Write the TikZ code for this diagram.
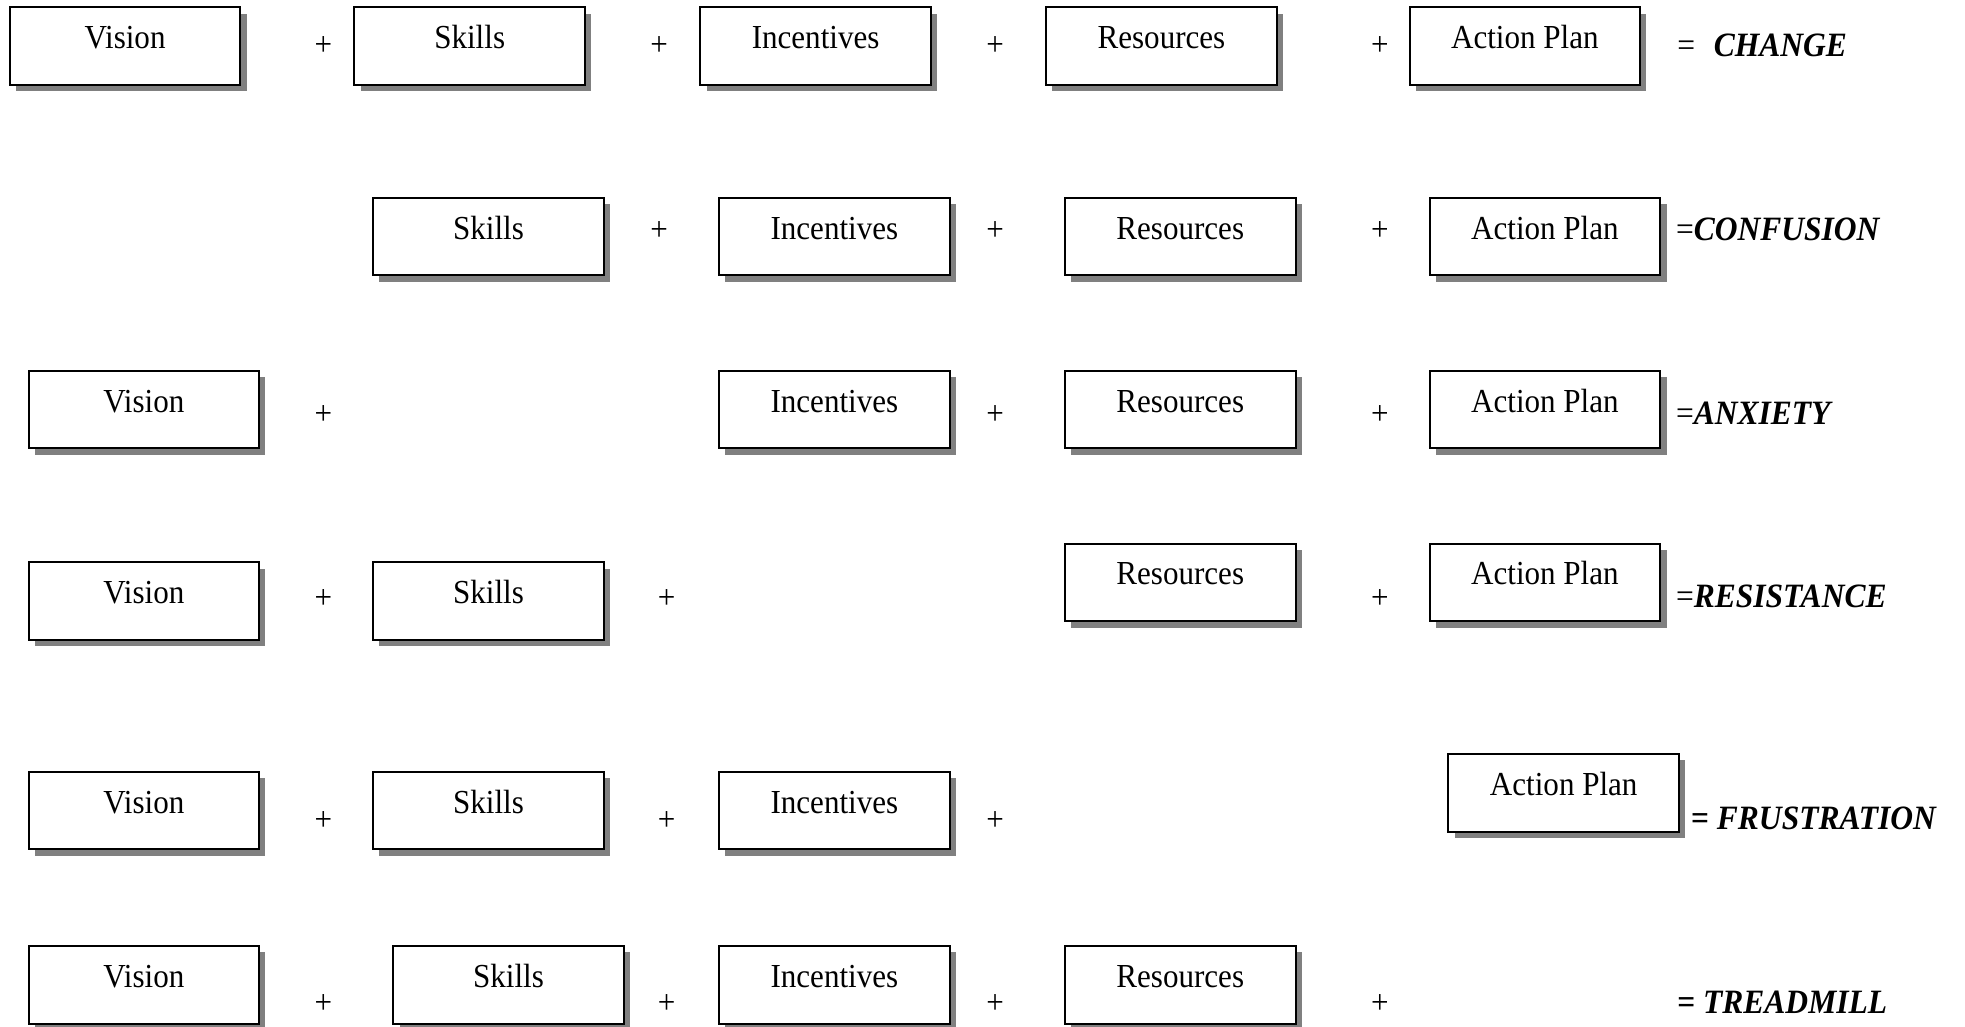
\documentclass[tikz,border=0pt]{standalone}
\usepackage{fontspec}
\setmainfont{Liberation Serif}[FakeStretch=0.925]
\usetikzlibrary{shadows}
\definecolor{shadowgray}{HTML}{808080}
\tikzset{
  box/.style={draw=black, line width=0.8pt, fill=white, anchor=north west,
    inner sep=0pt, minimum width=92pt, text height=16.5pt, text depth=14.5pt,
    align=center, font=\fontsize{13.4pt}{15pt}\selectfont,
    drop shadow={shadow xshift=2.5pt, shadow yshift=-2.5pt, fill=shadowgray, opacity=1}},
  plus/.style={inner sep=0pt, font=\fontsize{13.4pt}{15pt}\selectfont},
  result/.style={inner sep=0pt, anchor=west, font=\fontsize{13.6pt}{15pt}\selectfont}
}
\begin{document}
\begin{tikzpicture}[x=0.5pt, y=-0.5pt]
\useasboundingbox (0,0) rectangle (1568,819);
% Row 1
\node[box] (v1) at (7,5) {Vision};
\node[plus] (p11) at (258,37) {+};
\node[box] (s1) at (282,5) {Skills};
\node[plus] (p12) at (526,37) {+};
\node[box] (i1) at (558,5) {Incentives};
\node[plus] (p13) at (794,37) {+};
\node[box] (r1) at (834,5) {Resources};
\node[plus] (p14) at (1101,37) {+};
\node[box] (a1) at (1124,5) {Action Plan};
\node[result] (e1) at (1338,36) {=\hspace{0.55em}\textbf{\textit{CHANGE}}};
% Row 2
\node[box] (s2) at (297,157) {Skills};
\node[plus] (p22) at (526,184) {+};
\node[box] (i2) at (573,157) {Incentives};
\node[plus] (p23) at (794,184) {+};
\node[box] (r2) at (849,157) {Resources};
\node[plus] (p24) at (1101,184) {+};
\node[box] (a2) at (1140,157) {Action Plan};
\node[result] (e2) at (1337,183) {=\textbf{\textit{CONFUSION}}};
% Row 3
\node[box] (v3) at (22,295) {Vision};
\node[plus] (p31) at (258,331) {+};
\node[box] (i3) at (573,295) {Incentives};
\node[plus] (p33) at (794,331) {+};
\node[box] (r3) at (849,295) {Resources};
\node[plus] (p34) at (1101,331) {+};
\node[box] (a3) at (1140,295) {Action Plan};
\node[result] (e3) at (1337,330) {=\textbf{\textit{ANXIETY}}};
% Row 4
\node[box] (v4) at (22,448) {Vision};
\node[plus] (p41) at (258,478) {+};
\node[box] (s4) at (297,448) {Skills};
\node[plus] (p42) at (532,478) {+};
\node[box] (r4) at (849,433) {Resources};
\node[plus] (p44) at (1101,478) {+};
\node[box] (a4) at (1140,433) {Action Plan};
\node[result] (e4) at (1337,476) {=\textbf{\textit{RESISTANCE}}};
% Row 5
\node[box] (v5) at (22,615) {Vision};
\node[plus] (p51) at (258,655) {+};
\node[box] (s5) at (297,615) {Skills};
\node[plus] (p52) at (532,655) {+};
\node[box] (i5) at (573,615) {Incentives};
\node[plus] (p53) at (794,655) {+};
\node[box] (a5) at (1155,601) {Action Plan};
\node[result] (e5) at (1349,653) {\textbf{= \textit{FRUSTRATION}}};
% Row 6
\node[box] (v6) at (22,754) {Vision};
\node[plus] (p61) at (258,801) {+};
\node[box] (s6) at (313,754) {Skills};
\node[plus] (p62) at (532,801) {+};
\node[box] (i6) at (573,754) {Incentives};
\node[plus] (p63) at (794,801) {+};
\node[box] (r6) at (849,754) {Resources};
\node[plus] (p64) at (1101,801) {+};
\node[result] (e6) at (1338,800) {\textbf{= \textit{TREADMILL}}};
\end{tikzpicture}
\end{document}
